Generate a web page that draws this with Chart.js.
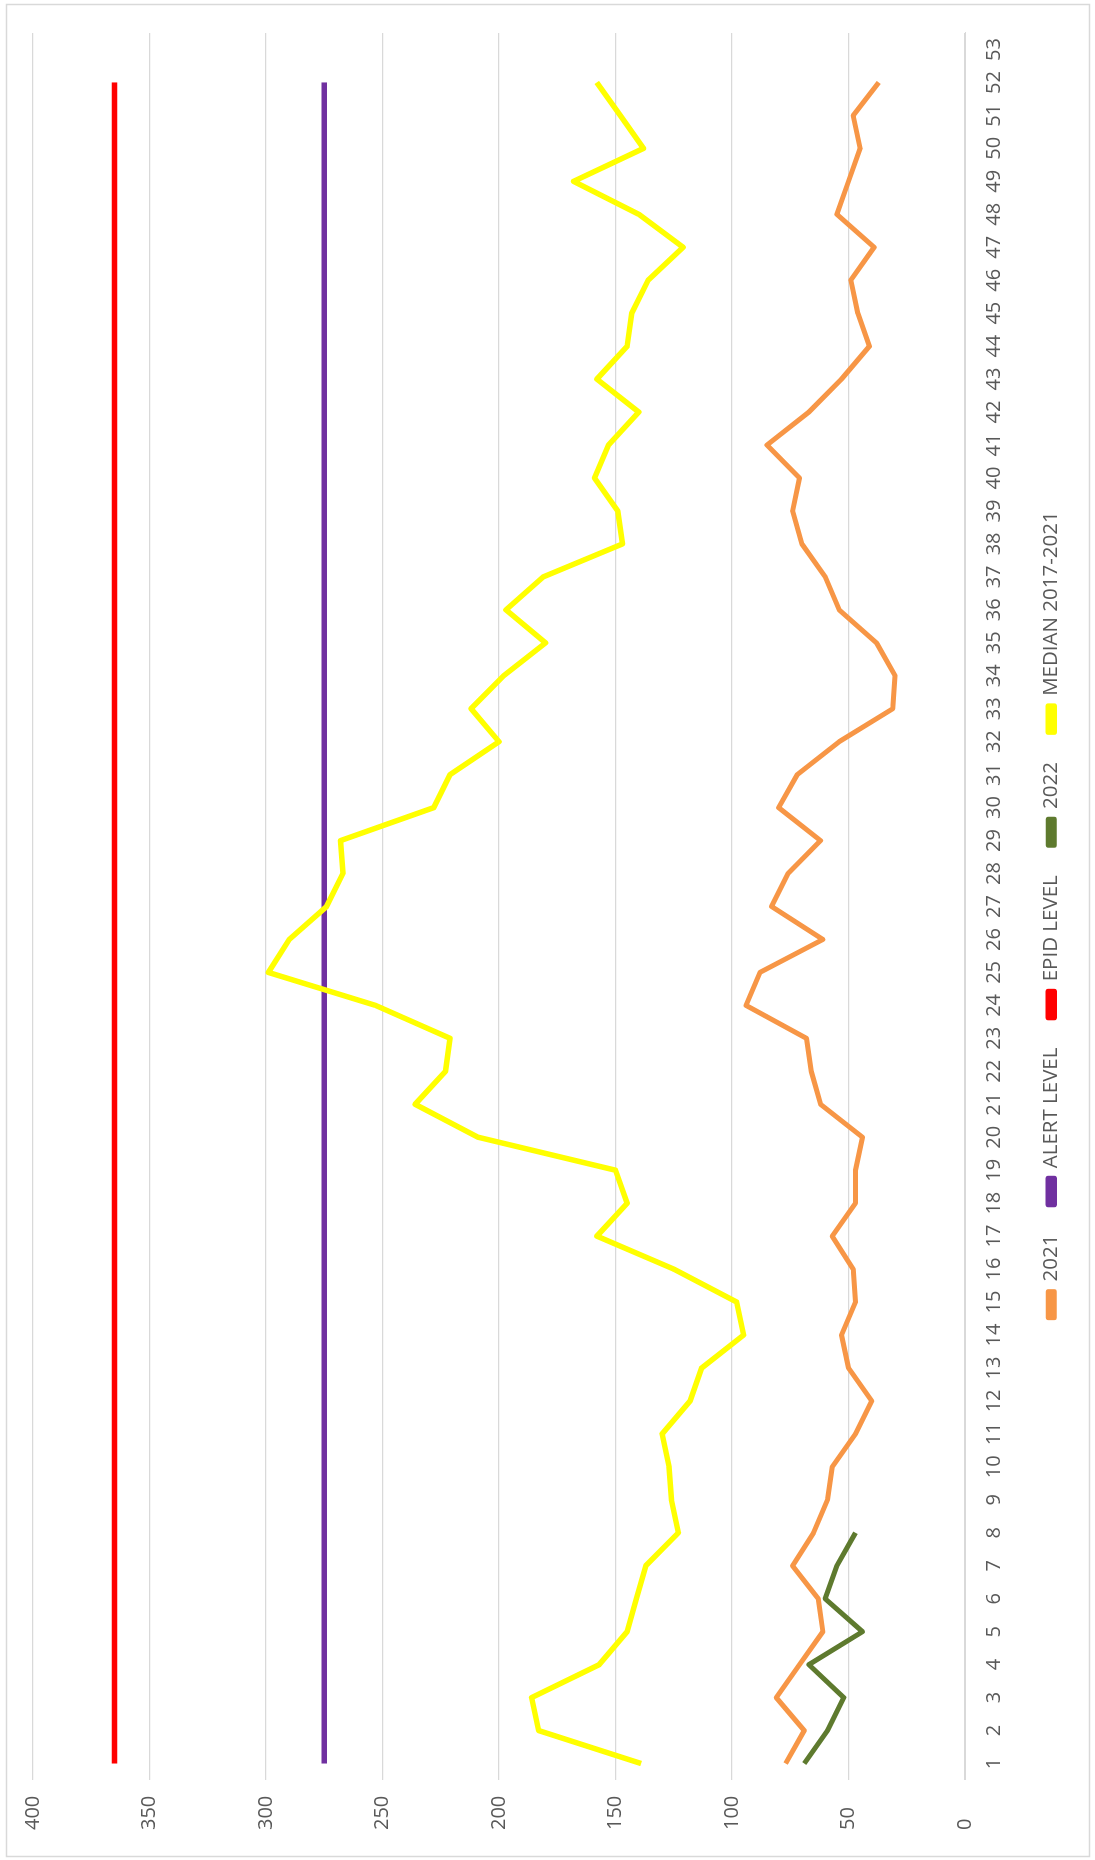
<!DOCTYPE html>
<html><head><meta charset="utf-8">
<script src="https://cdn.jsdelivr.net/npm/chart.js@4.4.0/dist/chart.umd.min.js"></script>
<style>
html,body{margin:0;padding:0;background:#fff;overflow:hidden;}
body{width:1095px;height:1860px;position:relative;}
#frame{position:absolute;left:0;top:0;width:1860px;height:1095px;transform-origin:0 0;transform:translate(0,1860px) rotate(-90deg);}
canvas{display:block;}
</style></head><body>
<div id="frame"><canvas id="c" width="1860" height="1095"></canvas></div>
<script>
const weeks = ['1','2','3','4','5','6','7','8','9','10','11','12','13','14','15','16','17','18','19','20','21','22','23','24','25','26','27','28','29','30','31','32','33','34','35','36','37','38','39','40','41','42','43','44','45','46','47','48','49','50','51','52','53'];
const valueTicks = [0, 50, 100, 150, 200, 250, 300, 350, 400];

const cases2021 = [77,69,81,71,61,63,74,65,59,57,47,40,50,53,47,48,57,47,47,44,62,66,68,94,88,61,83,76,62,80,72,54,31,30,38,54,60,70,74,71,85,67,53,41,46,49,39,55,50,45,48,37];
const alertLevel = [275,275,275,275,275,275,275,275,275,275,275,275,275,275,275,275,275,275,275,275,275,275,275,275,275,275,275,275,275,275,275,275,275,275,275,275,275,275,275,275,275,275,275,275,275,275,275,275,275,275,275,275];
const epidLevel = [365,365,365,365,365,365,365,365,365,365,365,365,365,365,365,365,365,365,365,365,365,365,365,365,365,365,365,365,365,365,365,365,365,365,365,365,365,365,365,365,365,365,365,365,365,365,365,365,365,365,365,365];
const cases2022 = [69,59,52,67,44,60,55,47];
const median1721 = [139,183,186,157,145,141,137,123,126,127,130,118,113,95,98,125,158,145,150,209,236,223,221,253,299,290,274,267,268,228,221,200,212,198,180,197,181,147,149,159,153,140,158,145,143,136,121,140,168,138,148,158];

const TXT = '#595959';
const GRID = '#d9d9d9';

function ds(label, data, color, order, width) {
  return {label, data, borderColor: color, backgroundColor: color, borderWidth: width,
    pointRadius: 0, pointHoverRadius: 0, tension: 0, fill: false, order,
    borderJoinStyle: 'round', borderCapStyle: 'butt'};
}

const frame = {
  id: 'frame',
  beforeDraw(chart) {
    const ctx = chart.ctx;
    ctx.save();
    ctx.fillStyle = '#fff';
    ctx.fillRect(0, 0, chart.width, chart.height);
    ctx.strokeStyle = GRID;
    ctx.lineWidth = 1.5;
    ctx.strokeRect(3.5, 6.5, 1852, 1083);
    ctx.restore();
  },
  afterLayout(chart) {
    if (chart.legend) { chart.legend.left += 17; chart.legend.right += 17; }
  }
};

new Chart(document.getElementById('c'), {
  type: 'line',
  data: {
    labels: weeks,
    datasets: [
      ds('2021', cases2021, '#F79646', 5, 5),
      ds('ALERT LEVEL', alertLevel, '#7030A0', 4, 5.5),
      ds('EPID LEVEL', epidLevel, '#FF0000', 3, 5.5),
      ds('2022', cases2022, '#5E7A2E', 2, 5),
      ds('MEDIAN 2017-2021', median1721, '#FFFF00', 1, 5.5)
    ]
  },
  options: {
    responsive: false, animation: false, devicePixelRatio: 1,
    layout: {padding: {left: 30, right: 33, top: 33, bottom: 23.5}},
    plugins: {
      tooltip: {enabled: false},
      legend: {
        position: 'bottom', align: 'center',
        labels: {
          boxWidth: 26, boxHeight: 6, padding: 30, color: TXT,
          font: {family: "'Open Sans', sans-serif", size: 20.5},
          sort: (a, b) => a.datasetIndex - b.datasetIndex
        }
      }
    },
    scales: {
      x: {
        type: 'category', offset: true,
        grid: {display: false, drawTicks: false},
        border: {display: true, color: GRID, width: 1},
        ticks: {autoSkip: false, maxRotation: 0, minRotation: 0, padding: 17, color: TXT,
          font: {family: "'Open Sans', sans-serif", size: 20}},
        afterFit: s => { s.height = 46; }
      },
      y: {
        min: 0, max: 400,
        afterBuildTicks: s => { s.ticks = valueTicks.map(v => ({value: v})); },
        grid: {color: GRID, lineWidth: 1.2, drawTicks: false},
        border: {display: false},
        ticks: {crossAlign: 'far', padding: 0, color: TXT,
          font: {family: "'Open Sans', sans-serif", size: 20}},
        afterFit: s => { s.width = 50; }
      }
    }
  },
  plugins: [frame]
});
</script>
</body></html>
